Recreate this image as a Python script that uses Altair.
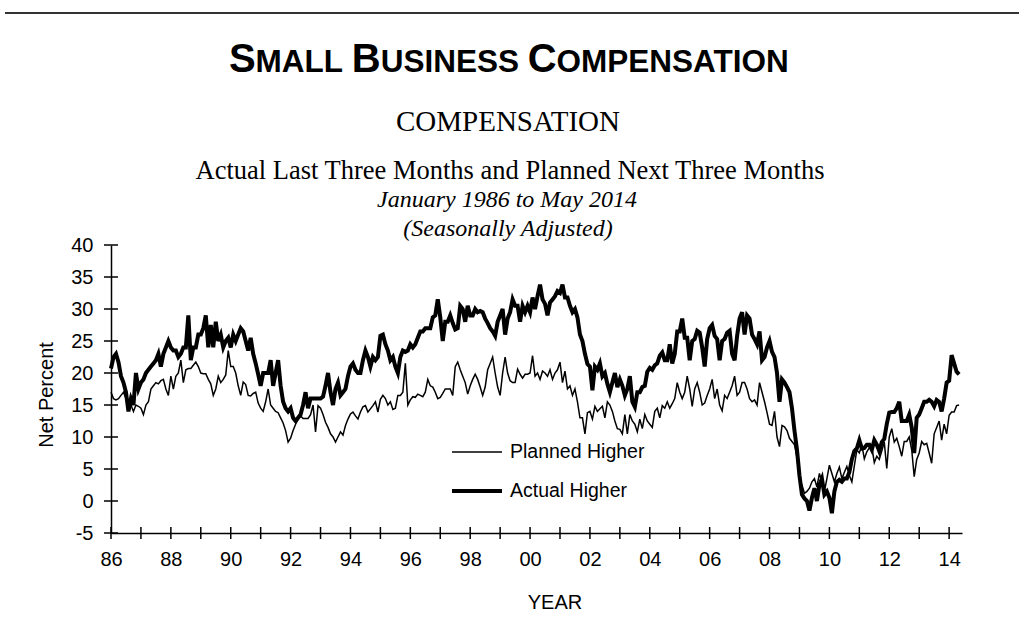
import altair as alt
import pandas as pd

START_YEAR = 1986

# Actual Higher (net percent), monthly Jan 1986 .. May 2014
actual = [
    20.7, 22.5, 23, 21.7, 19.5, 18.5, 17, 14, 16, 15, 20, 17.5,          # 1986
    18.5, 19, 20, 20.5, 21, 21.5, 22, 23, 21, 23, 24, 25,                # 1987
    24, 23.5, 23.5, 22.5, 23, 24, 24, 29, 22, 24, 24, 26,                # 1988
    26, 27, 29, 24, 27.5, 24, 28, 25, 26, 24, 25, 25.5,                  # 1989
    24, 26, 25, 26, 27, 26.5, 25, 23.5, 25.5, 23, 21.5, 19.8,            # 1990
    18, 20, 20, 20, 22, 18, 20, 22, 18, 15.5, 14.5, 14,                  # 1991
    14.5, 13, 12.5, 13, 13.5, 15, 17, 14.5, 16, 16, 16, 16,              # 1992
    16, 16.3, 18, 20, 17, 15, 17.5, 18.5, 16.5, 17, 17.5, 19.5,          # 1993
    21, 21.5, 20.5, 20, 20, 22, 23.5, 22.5, 21, 22.5, 22, 22.5,          # 1994
    25.8, 26, 24.5, 23.5, 22, 22.5, 21, 20, 22.5, 23.5, 23.3, 23.5,      # 1995
    24.5, 24, 24.5, 25.5, 26.5, 26.5, 27, 27, 27, 28.7, 29, 31.5,        # 1996
    28.7, 25, 28, 28, 29, 27.8, 26.8, 27, 30.5, 30, 28, 30.5,            # 1997
    29, 29, 30, 29.5, 29.7, 29.5, 28.5, 27.8, 27, 26.5, 25.8, 28,        # 1998
    29, 30, 26, 28.5, 29.5, 31.5, 30.5, 30.5, 28, 30.5, 29.5, 30.5,      # 1999
    29.5, 31.8, 30, 32, 33.8, 31.5, 30.8, 29, 31, 31.5, 32, 32.8,        # 2000
    32.5, 33.8, 31.8, 31.8, 30.5, 29.5, 30, 28.7, 26, 25, 23, 21.4,      # 2001
    21, 17.3, 21, 20.5, 21.5, 19.5, 20, 18.3, 17, 18.5, 20, 17.8,        # 2002
    19, 18, 16.5, 17.5, 19.5, 15.5, 14.7, 17, 17, 17.8, 18, 20.2,        # 2003
    20.8, 20.5, 21.2, 21.5, 22.7, 23.2, 22, 22, 24.5, 21.5, 23, 26.5,    # 2004
    26.5, 28.5, 25.5, 25.5, 22, 25, 25.3, 26.6, 26.3, 24, 21, 25.3,      # 2005
    27, 27.5, 25.8, 25.3, 22, 25, 25.3, 26.3, 26.6, 23, 22, 25.8,        # 2006
    28.5, 29.5, 26, 29, 28.5, 26, 25.3, 24.5, 26.5, 22, 22.5, 24,        # 2007
    25, 23.3, 22.5, 20, 15.5, 19, 18.5, 17.8, 17, 14.5, 11, 8,           # 2008
    4, 1, 0.4, 0, -1.5, 0.5, 2, 0, 2.5, 3.5, 1, 1.5,                     # 2009
    0.5, -1.9, 1.5, 3, 3.3, 3, 3.5, 3.5, 4.5, 6.5, 7.8, 8.2,             # 2010
    9.5, 8.2, 8.3, 8.8, 8.8, 8, 9.5, 8.8, 7.8, 9.2, 9.7, 12,             # 2011
    13.8, 13.9, 13.9, 14.5, 15.5, 12.5, 12.5, 12.5, 13.5, 11.5, 7.5, 13, # 2012
    13.5, 14.5, 15.5, 15.5, 15.8, 15.5, 14.8, 15.8, 15.5, 14, 16, 18.5,  # 2013
    18.8, 22.8, 21.5, 20.2, 19.8,                                        # 2014
]

# Planned Higher (net percent), monthly Jan 1986 .. May 2014
planned = [
    17, 16, 15.8, 16, 16.5, 17, 16, 14.5, 15, 14, 15, 14.8,              # 1986
    14.5, 13.5, 15, 15.5, 17.5, 18, 18.5, 18.3, 18.8, 19, 17.5, 16.5,    # 1987
    19.5, 17.5, 19.5, 20, 22, 18.5, 20.5, 20.7, 20.7, 21.2, 21.7, 21,    # 1988
    20, 19.9, 19.9, 19, 18.3, 16.5, 17.5, 19.5, 18.5, 19, 19.7, 23.5,    # 1989
    21, 21, 20, 18, 16.5, 18.6, 18.2, 16.5, 16.4, 16.8, 17, 15.3,        # 1990
    14.5, 14, 15.5, 17.5, 15, 14.5, 14, 13.8, 13, 12.2, 11, 9.2,         # 1991
    9.8, 11, 12, 12.8, 13.3, 12.9, 12.9, 12.9, 13.5, 15, 10.8, 14.9,     # 1992
    14.5, 13.5, 12.3, 11.5, 10.5, 10, 9.2, 10, 10.8, 10.3, 11.8, 12.8,   # 1993
    13.6, 13.9, 13.3, 12.8, 13.9, 14.7, 14.9, 13.9, 14.4, 14.9, 15.5, 13.9,  # 1994
    15.9, 16.5, 16, 15, 15.5, 14.3, 14.5, 16.5, 16.5, 17, 21.5, 15,      # 1995
    15.8, 16.3, 16.2, 16.7, 16.5, 16.3, 17, 19, 18, 17.8, 17, 16,        # 1996
    16.2, 16.8, 17.5, 17.5, 17.5, 16.5, 21, 21.7, 20.5, 19.5, 18.5, 16.7,  # 1997
    18, 19, 19.8, 19, 17.8, 16.5, 17.8, 20.5, 21.5, 22.5, 20, 17.8,      # 1998
    16.5, 20, 22.5, 20, 18.8, 18.5, 18.5, 20.6, 19.8, 19.2, 19.8, 19.8,  # 1999
    20, 22.7, 19.5, 20, 19, 20.3, 20, 19.5, 20.5, 19, 20, 20.5,          # 2000
    21.7, 18.5, 20.3, 17.5, 18, 16.5, 17.5, 15.5, 13, 13, 10.5, 13.8,    # 2001
    14, 12.8, 14.8, 14, 14.4, 14.8, 13, 15.5, 15, 14, 12.5, 11.3,        # 2002
    11.2, 10.5, 13.5, 10.5, 13.5, 12.5, 12, 10.8, 12.8, 11.3, 13.5, 12.5,  # 2003
    12, 11.5, 14, 14.5, 13, 14.9, 14.5, 15.5, 14.5, 15.2, 16, 18.5,      # 2004
    17, 16, 17, 19.5, 17.5, 14.8, 17.5, 18.5, 17, 15, 15.3, 16.5,        # 2005
    17.5, 19, 16, 17.5, 15, 14.1, 16.5, 16, 17, 18, 19.5, 16.5,          # 2006
    17, 18.5, 18.5, 17.5, 16, 15.5, 15.8, 15, 18.5, 17, 15.5, 13.8,      # 2007
    12, 11.8, 14, 10, 8.5, 11.8, 11.6, 11, 9.8, 9.3, 8.8, 6.8,           # 2008
    3.3, 2.5, 1.2, 1.5, 2, 3, 3.5, 2.2, 4.3, 3, 1.5, 3.5,                # 2009
    5.6, 4.3, 3, 4.3, 5.3, 3.5, 4.5, 5.4, 4, 3, 5.5, 8,                  # 2010
    7.5, 8.8, 6.6, 7.7, 8.3, 8.5, 6, 7, 6.5, 7.8, 9.2, 5.1,              # 2011
    10, 11.3, 9.2, 9.8, 8.5, 7, 9.3, 9.3, 10, 8, 3.8, 6.5,               # 2012
    7.5, 9.3, 8.8, 9, 7.5, 5.9, 10.5, 11.5, 12.5, 9.5, 12, 10.5,         # 2013
    13.4, 13.9, 13.9, 14.9, 15,                                          # 2014
]

year_ticks = list(range(1986, 2015))
label_years = list(range(1986, 2015, 2))
y_ticks = list(range(-5, 45, 5))

W, H = 851, 288
SANS = "Liberation Sans"
SERIF = "Liberation Serif"

t = [START_YEAR + i / 12 for i in range(len(actual))]
df_a = pd.DataFrame({"t": t, "v": actual})
df_p = pd.DataFrame({"t": t[: len(planned)], "v": planned})

xscale = alt.Scale(domain=[1986, 2014.43], nice=False, zero=False)
yscale = alt.Scale(domain=[-5, 40], nice=False, zero=False)

x_axis = alt.Axis(
    values=label_years,
    labelExpr="slice(toString(datum.value), 2)",
    ticks=False, grid=False, labelOverlap=False, labelFlush=False,
    domainColor="black", domainWidth=1.5,
    labelFont=SANS, labelFontSize=20, labelColor="black", labelPadding=16,
    title=None,
)
y_axis = alt.Axis(
    values=y_ticks, ticks=False, grid=False, labelOverlap=False, labelFlush=False,
    labelExpr="toString(datum.value)",
    domainColor="black", domainWidth=1.5,
    labelFont=SANS, labelFontSize=20, labelColor="black", labelPadding=18,
    title=None,
)

planned_line = alt.Chart(df_p).mark_line(color="black", strokeWidth=1.5).encode(
    x=alt.X("t:Q", scale=xscale, axis=x_axis),
    y=alt.Y("v:Q", scale=yscale, axis=y_axis),
)
actual_line = alt.Chart(df_a).mark_line(color="black", strokeWidth=4).encode(
    x=alt.X("t:Q", scale=xscale, axis=x_axis),
    y=alt.Y("v:Q", scale=yscale, axis=y_axis),
)

xt = alt.Chart(pd.DataFrame({"t": year_ticks})).mark_rule(color="black", strokeWidth=1.5).encode(
    x=alt.X("t:Q", scale=xscale, axis=x_axis), y=alt.value(H - 6), y2=alt.value(H + 6)
)
yt = alt.Chart(pd.DataFrame({"v": y_ticks})).mark_rule(color="black", strokeWidth=1.5).encode(
    y=alt.Y("v:Q", scale=yscale, axis=y_axis), x=alt.value(-7), x2=alt.value(7)
)


def text(s, x, y, size, font, **kw):
    return alt.Chart(pd.DataFrame({"s": [s]})).mark_text(
        font=font, fontSize=size, color="black", **kw
    ).encode(text="s:N", x=alt.value(x), y=alt.value(y))


layers = [planned_line, actual_line, xt, yt]

# top rule
layers.append(
    alt.Chart(pd.DataFrame({"a": [0]})).mark_rule(color="#333333", strokeWidth=2).encode(
        x=alt.value(-106), x2=alt.value(908), y=alt.value(-232)
    )
)

# small-caps bold title
ARIAL_BOLD = {"S": 667, "M": 833, "A": 722, "L": 611, "B": 722, "U": 722, "I": 278,
              "N": 722, "E": 667, "C": 722, "O": 778, "P": 667, "T": 611, " ": 278}
BIG, SMALL = 40, 31.5
pieces = []
cx = 0.0
for wi, w in enumerate(["SMALL", "BUSINESS", "COMPENSATION"]):
    if wi > 0:
        cx += ARIAL_BOLD[" "] * SMALL / 1000
    pieces.append((w[0], cx, BIG))
    cx += ARIAL_BOLD[w[0]] * BIG / 1000
    pieces.append((w[1:], cx, SMALL))
    cx += sum(ARIAL_BOLD[c] for c in w[1:]) * SMALL / 1000
off = 399 - cx / 2
for s, px, sz in pieces:
    layers.append(text(s, off + px, -173, sz, SANS, fontWeight="bold", align="left", baseline="alphabetic"))

layers.append(text("COMPENSATION", 397, -114, 29, SERIF, align="center", baseline="alphabetic"))
layers.append(text("Actual Last Three Months and Planned Next Three Months", 399, -66, 26.5, SERIF,
                   align="center", baseline="alphabetic"))
layers.append(text("January 1986 to May 2014", 396, -38, 24, SERIF, fontStyle="italic",
                   align="center", baseline="alphabetic"))
layers.append(text("(Seasonally Adjusted)", 397, -9, 24, SERIF, fontStyle="italic",
                   align="center", baseline="alphabetic"))

# axis titles
layers.append(text("Net Percent", -58, 150, 20, SANS, angle=270, align="center", baseline="alphabetic"))
layers.append(text("YEAR", 444, 364, 20, SANS, align="center", baseline="alphabetic"))

# legend
layers.append(alt.Chart(pd.DataFrame({"a": [0]})).mark_rule(color="black", strokeWidth=1.5).encode(
    x=alt.value(341), x2=alt.value(391), y=alt.value(207)))
layers.append(alt.Chart(pd.DataFrame({"a": [0]})).mark_rule(color="black", strokeWidth=4).encode(
    x=alt.value(341), x2=alt.value(391), y=alt.value(246)))
layers.append(text("Planned Higher", 399, 207, 19.5, SANS, align="left", baseline="middle"))
layers.append(text("Actual Higher", 399, 246, 19.5, SANS, align="left", baseline="middle"))

chart = alt.layer(*layers).properties(
    width=W, height=H,
    padding={"left": 111, "top": 245, "right": 62, "bottom": 99},
    autosize=alt.AutoSizeParams(type="none"),
    background="white",
).configure_view(stroke=None).configure_axis(labelOverlap=False, labelFlush=False)

chart.save("out.html", embed_options={"renderer": "svg", "actions": False})
